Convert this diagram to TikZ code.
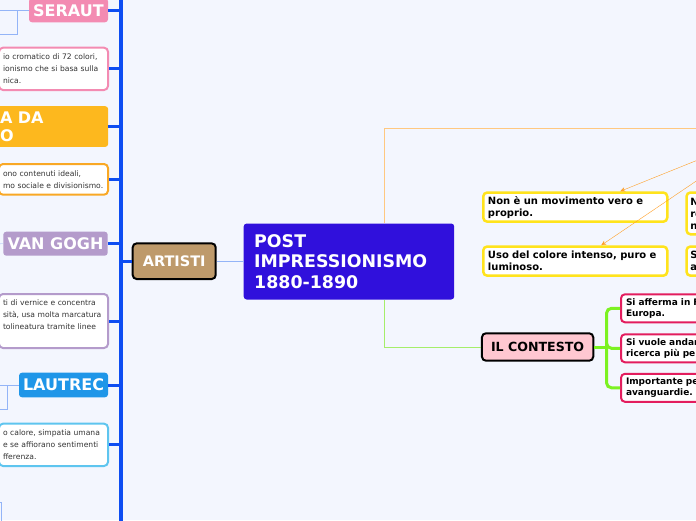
\documentclass[tikz,border=0pt]{standalone}
\usepackage{fontspec}
\setmainfont{DejaVu Sans}
\usetikzlibrary{arrows.meta}

\definecolor{bgc}{HTML}{F3F6FE}
\definecolor{trunkc}{HTML}{0D4DF2}
\definecolor{postc}{HTML}{3010DC}
\definecolor{artc}{HTML}{BE9A6B}
\definecolor{serc}{HTML}{F38BB2}
\definecolor{pelc}{HTML}{FDB81E}
\definecolor{pelnc}{HTML}{F9A825}
\definecolor{vgc}{HTML}{B49BCB}
\definecolor{lauc}{HTML}{1F96E8}
\definecolor{launc}{HTML}{5EC5EF}
\definecolor{subc}{HTML}{93B4F7}
\definecolor{idlinec}{HTML}{FFC880}
\definecolor{arrc}{HTML}{FFA028}
\definecolor{ctxlinec}{HTML}{A5EE6A}
\definecolor{greenc}{HTML}{7CF222}
\definecolor{yelc}{HTML}{FFE31C}
\definecolor{crimc}{HTML}{E31D5E}
\definecolor{ctxc}{HTML}{FFC7D1}

\tikzset{
  artist/.style={rounded corners=3pt,text=white,inner sep=0pt,
    font=\bfseries\fontsize{16}{18}\selectfont},
  topic/.style={draw=black,line width=2pt,rounded corners=4pt,inner sep=0pt},
  note/.style={draw,line width=2pt,fill=white,rounded corners=4pt,align=left,
    anchor=north west,inner xsep=4pt,inner ysep=0pt,text=black!80,text width=101pt,
    font=\fontsize{7.6}{12}\selectfont},
  subbox/.style={draw=subc,line width=1pt,anchor=north east,inner sep=0pt},
  idea/.style={draw=yelc,line width=2.5pt,fill=white,rounded corners=4pt,align=left,
    anchor=north west,inner ysep=0pt,font=\bfseries\fontsize{10}{12}\selectfont},
  fact/.style={draw=crimc,line width=2pt,fill=white,rounded corners=4pt,align=left,
    anchor=north west,inner xsep=5pt,inner ysep=0pt,text width=220pt,minimum height=28pt,
    font=\bfseries\fontsize{9}{11}\selectfont},
  trunk/.style={trunkc,line width=3pt},
}

\begin{document}
\begin{tikzpicture}[x=1pt,y=-1pt]
  \useasboundingbox (0,0) rectangle (696,520);
  \clip (0,0) rectangle (696,520);
  \fill[bgc] (0,0) rectangle (696,520);

  % centre and the two main topics
  \node[fill=postc,rounded corners=3pt,text=white,anchor=north west,align=left,
    text width=189.5pt,inner xsep=10.5pt,inner ysep=0pt,minimum height=76pt,
    font=\bfseries\fontsize{17.4}{20.5}\selectfont] (post) at (243.5,223.3)
    {POST\\IMPRESSIONISMO\\1880-1890};
  \node[topic,fill=artc,text=white,minimum width=83pt,minimum height=35.7pt,
    font=\bfseries\fontsize{14.5}{16}\selectfont] (artisti) at (174.2,261.2) {ARTISTI};
  \node[topic,fill=ctxc,minimum width=111.3pt,minimum height=27.4pt,
    font=\bfseries\fontsize{12.6}{15}\selectfont] (contesto) at (537.6,347) {IL CONTESTO};

  % artists on the left
  \coordinate (ttop) at (120.5,-5);
  \coordinate (tbot) at (120.5,525);
  \draw[trunkc,line width=4pt] (ttop) -- (tbot);

  \node[artist,fill=serc,minimum width=79pt,minimum height=24pt] (seraut) at (68.5,10.3) {SERAUT};
  \node[note,draw=serc,minimum height=42.3pt] (sernote) at (-2,46.7)
    {\mbox{io cromatico di 72 colori,}\\\mbox{ionismo che si basa sulla}\\nica.};
  \node[artist,fill=pelc,anchor=north west,align=left,text width=98pt,inner xsep=10pt,
    minimum height=40.7pt] (pellizza) at (-10,106) {A DA\\O};
  \node[note,draw=pelnc,minimum height=30.7pt] (pelnote) at (-2,163)
    {\mbox{ono contenuti ideali,}\\\mbox{mo sociale e divisionismo.}};
  \node[artist,fill=vgc,minimum width=104.4pt,minimum height=24pt] (vangogh) at (55.5,243.7) {VAN GOGH};
  \node[note,draw=vgc,minimum height=54pt] (vgnote) at (-2,293)
    {\mbox{ti di vernice e concentra}\\\mbox{sità, usa molta marcatura}\\\mbox{tolineatura tramite linee}\\ \mbox{}};
  \node[artist,fill=lauc,minimum width=89pt,minimum height=24.6pt] (lautrec) at (63.5,385) {LAUTREC};
  \node[note,draw=launc,minimum height=42.3pt] (launote) at (-2,422.7)
    {\mbox{o calore, simpatia umana}\\\mbox{e se affiorano sentimenti}\\fferenza.};

  \node[subbox,minimum width=30pt,minimum height=24pt] (sersub) at (17.7,9.5) {};
  \node[subbox,minimum width=20pt,minimum height=24pt] (lausub) at (7.8,384.5) {};
  \node[subbox,minimum width=15pt,minimum height=30pt] (lastsub) at (2.3,502) {};
  \coordinate (vgsub) at (-5,244);

  \draw[subc] (seraut.west) -- (seraut.west -| sersub.east);
  \draw[subc] (lautrec.west) -- (lautrec.west -| lausub.east);
  \draw[subc] (vangogh.west) -- (vgsub);

  \foreach \n in {seraut,sernote,pellizza,pelnote,vangogh,vgnote,lautrec,launote}
    \draw[trunk] (\n.east) -- (\n.east -| ttop);
  \draw[trunk] (artisti.west) -- (artisti.west -| ttop);
  \draw[subc] (artisti.east) -- (artisti.east -| post.west);

  % ideas on the right
  \coordinate (caratt) at (771,128.3);
  \coordinate (cfrom) at (771,130.5);
  \draw[idlinec] ([xshift=35.5pt]post.north) |- (caratt);
  \node[idea,text width=174.6pt,inner xsep=4.7pt,minimum height=29.2pt] (nonmov) at (482,191.25)
    {Non è un movimento vero e\\proprio.};
  \node[idea,text width=174.6pt,inner xsep=4.7pt,minimum height=29.2pt] (uso) at (482,245.25)
    {Uso del colore intenso, puro e\\luminoso.};
  \node[idea,text width=150pt,inner xsep=3.75pt,minimum height=41.8pt] (nuovo) at (685.25,191.25)
    {N\\re\\n};
  \node[idea,text width=150pt,inner xsep=3.75pt,minimum height=29.2pt] (sogg) at (685.25,245.25)
    {S\\a};
  \draw[arrc,-{Stealth[length=5pt,width=4.5pt]}] (cfrom) -- ([xshift=45pt]nonmov.north);
  \draw[arrc,-{Stealth[length=5pt,width=4.5pt]}] (cfrom) -- ([xshift=26pt]uso.north);

  % context
  \draw[ctxlinec] ([xshift=35.5pt]post.south) |- (contesto.west);
  \node[fact] (afferma) at (620,293.3) {Si afferma in Francia e in\\Europa.};
  \node[fact] (andare) at (620,333.3) {Si vuole andare oltre, in una\\ricerca più personale.};
  \node[fact] (avang) at (620,372.8) {Importante per le\\avanguardie.};
  \coordinate (fork) at (606.5,347);
  \draw[greenc,line width=3pt] (contesto.east) -- (fork);
  \foreach \n in {afferma,andare,avang}
    \draw[greenc,line width=3pt,rounded corners=5pt] (fork) |- (\n.west);
\end{tikzpicture}
\end{document}
